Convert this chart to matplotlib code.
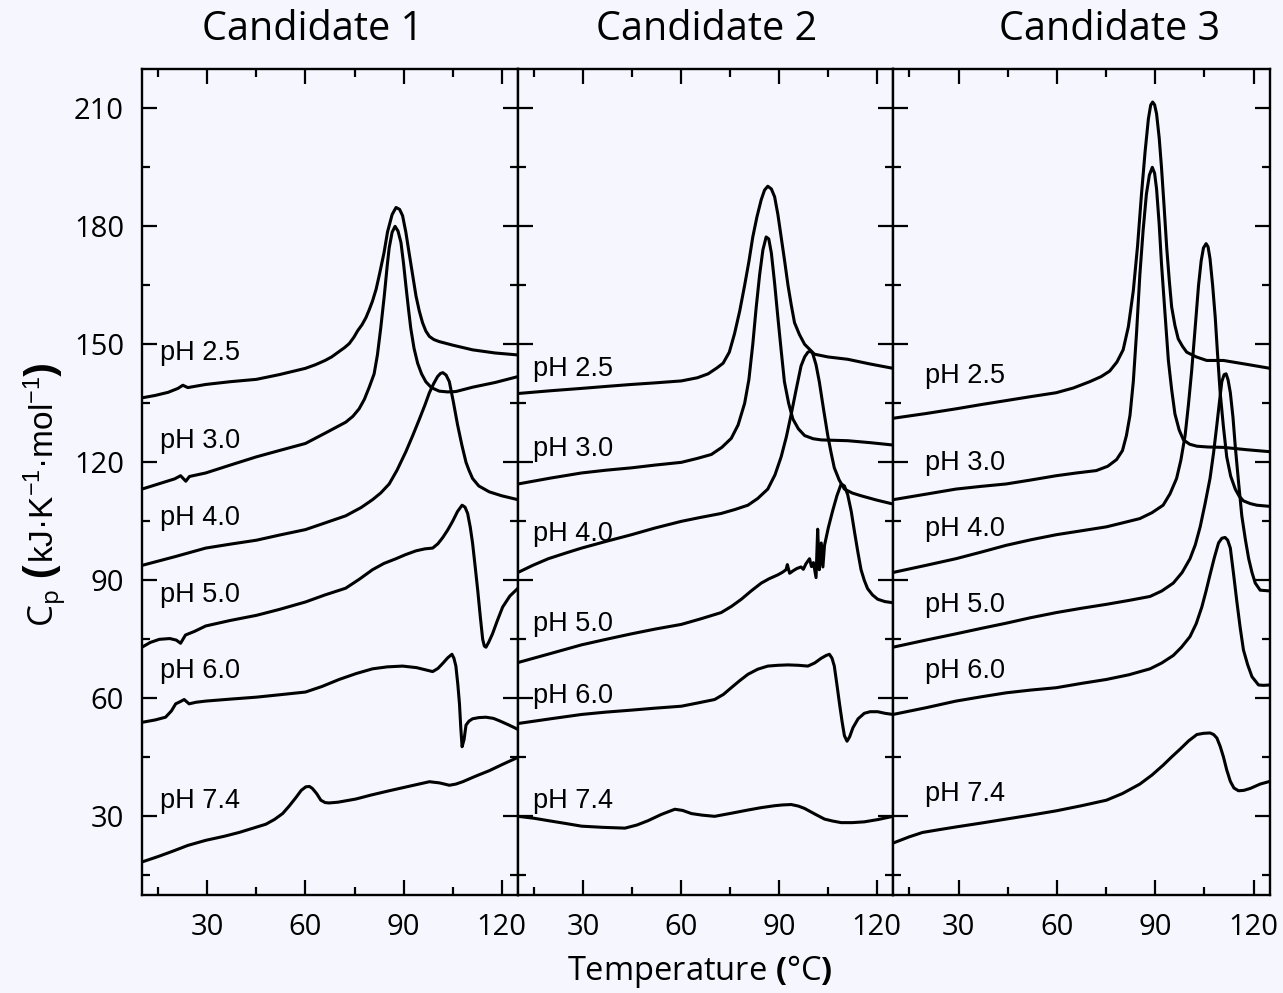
import matplotlib
matplotlib.use("Agg")
import matplotlib.pyplot as plt
from matplotlib.ticker import MultipleLocator

# ---------------- data: DSC thermograms (T in °C, Cp in kJ/K/mol) ----------------
ph_labels = ["pH 2.5", "pH 3.0", "pH 4.0", "pH 5.0", "pH 6.0", "pH 7.4"]
panel_titles = ["Candidate 1", "Candidate 2", "Candidate 3"]
x_ticks = [30, 60, 90, 120]
y_ticks = [30, 60, 90, 120, 150, 180, 210]

# Candidate 1
c1_25_T = [10, 14, 18, 21, 22.5, 24, 29.5, 37, 45, 52, 60, 63, 66, 68, 70, 72, 73.4, 74.8, 76, 77.3, 78.5,
           79.5, 80.5, 81.6, 82.6, 84, 85.1, 86.5, 87.7, 88.8, 89.7, 90.7, 91.7, 92.8, 93.8, 94.8, 95.8, 96.8,
           97.9, 99.3, 100.9, 105, 111.1, 118, 125]
c1_25_cp = [136.4, 137, 137.8, 138.8, 139.6, 139, 139.8, 140.5, 141.1, 142.3, 143.9, 144.8, 145.9, 146.8, 148,
            149.2, 150.2, 151.8, 153.5, 155, 156.8, 158.8, 161, 164, 167.7, 173.2, 178.6, 183, 184.8, 184.3,
            182.7, 178.5, 173.2, 167.5, 162.3, 158.5, 155.5, 153.4, 152, 151.2, 150.7, 149.8, 148.6, 147.8,
            147.3]
c1_30_T = [10, 15, 20, 21.8, 23.4, 24.5, 29.5, 37, 45, 52, 60, 66.2, 72.3, 74.5, 76.4, 78, 79.5, 81, 82, 83,
           84.1, 85, 85.6, 86.5, 87.4, 88.3, 89.2, 90, 90.7, 91.5, 92.2, 93.2, 94.3, 95.5, 96.8, 98.5, 100.9,
           103.5, 106, 111.1, 118, 125]
c1_30_cp = [113.2, 114.5, 115.8, 116.6, 115.2, 116.4, 117.3, 119.3, 121.4, 123, 124.8, 127.5, 130.2, 131.7,
            133.6, 136, 139.1, 142.5, 147.3, 154, 162.3, 170, 174.5, 178.5, 180, 178.8, 175.9, 170.5, 165, 159,
            154.1, 149, 145.2, 142.5, 140.5, 139, 138.1, 137.9, 138, 139.1, 140.3, 141.8]
c1_40_T = [10, 20, 29.5, 37, 45, 52, 60, 66, 72.3, 77, 80.5, 83, 85.6, 88, 90.7, 92.8, 94.8, 96.5, 97.9, 99.2,
           100.4, 101.3, 102, 103, 104, 105.2, 106.5, 107.8, 109.1, 110, 111.1, 113, 116.2, 120, 125]
c1_40_cp = [93.8, 96, 98.2, 99.2, 100.2, 101.5, 102.9, 104.6, 106.4, 108.5, 110.5, 112.2, 114.5, 118, 122.7,
            126.8, 130.9, 134.5, 137.7, 140, 141.8, 142.6, 142.8, 142.2, 140.5, 135.5, 129.6, 124.5, 120, 118,
            115.9, 114, 112.5, 111.5, 110.5]
c1_50_T = [10, 12.5, 15.3, 18.5, 20.5, 21.8, 23.3, 26, 29.5, 37, 45, 52, 60, 66, 72.3, 76.5, 80.5, 84, 87.7,
           90.5, 93.8, 96.5, 98.9, 100.5, 102, 103.5, 105, 106.5, 107.9, 108.8, 109.6, 110.4, 111.1, 111.9,
           112.7, 113.5, 114.2, 114.7, 115.2, 116, 117.2, 118.7, 120.3, 122.5, 125]
c1_50_cp = [73, 74.2, 75, 75.2, 74.8, 74, 76.1, 77, 78.4, 79.8, 81.1, 82.6, 84.5, 86.3, 88, 90.3, 92.7, 94.3,
            95.5, 96.5, 97.5, 98, 98.2, 99.3, 100.9, 102.8, 105, 107.5, 109.1, 108.6, 107, 103.5, 99.5, 93.5,
            87.3, 80.5, 75, 73.3, 73, 74.2, 76.4, 79.8, 83.2, 86, 88]
c1_60_T = [10, 14, 17.2, 19, 20.3, 21.8, 22.9, 24.4, 26.5, 29.5, 37, 45, 52, 60, 65, 70.3, 75.5, 80.5, 85,
           89.7, 94, 98.9, 100.5, 102, 103.5, 104.8, 105.4, 106, 106.6, 107.1, 107.5, 107.9, 108.5, 109.1, 110,
           111.1, 113, 115.2, 117.5, 119.3, 122, 125]
c1_60_cp = [53.9, 54.5, 55.2, 56.8, 58.6, 59.2, 59.7, 58.6, 59, 59.3, 59.8, 60.3, 60.9, 61.6, 63, 64.8, 66.3,
            67.5, 68, 68.2, 67.8, 66.8, 67.6, 68.9, 70.3, 71.2, 70.2, 68.2, 63.5, 58.6, 52.5, 47.7, 49.5, 53.2,
            54.2, 54.8, 55.1, 55.2, 54.9, 54.3, 53.3, 52.1]
c1_74_T = [10, 15, 19.3, 24, 29.5, 35, 39.7, 44, 47.9, 50.5, 53, 55, 57.1, 58.7, 60.1, 61.2, 62.1, 63.4, 64.7,
           66, 67.2, 70, 75.4, 80, 85.6, 92, 97.9, 101, 104, 106, 108.1, 112, 116.2, 120.5, 125]
c1_74_cp = [18.4, 19.8, 21.1, 22.6, 23.9, 24.9, 25.9, 27, 28, 29.2, 30.7, 32.6, 34.8, 36.6, 37.5, 37.6, 37.1,
            35.8, 34.1, 33.5, 33.4, 33.6, 34.4, 35.4, 36.5, 37.7, 38.8, 38.5, 37.9, 38.2, 38.8, 40.2, 41.6,
            43.3, 45]

# Candidate 2
c2_25_T = [10, 20, 29.5, 37, 44.8, 52, 60.1, 65, 68.3, 71, 72.9, 74.8, 76.4, 78, 79.5, 80.8, 82, 83.3, 84.6,
           85.6, 86.6, 87.7, 88.7, 89.7, 90.7, 91.8, 92.8, 93.8, 94.8, 96.3, 97.9, 100.9, 105, 111.1, 118, 125]
c2_25_cp = [137.5, 138.2, 138.8, 139.3, 139.8, 140.2, 140.7, 141.5, 142.5, 144, 145.2, 148, 152.7, 158.5, 165,
            171, 177.3, 182.5, 186.8, 189.2, 190.2, 189.5, 187.5, 183, 177.3, 171, 165, 160, 155.5, 152.5, 150,
            147.5, 146.8, 146.2, 145, 143.9]
c2_30_T = [10, 20, 29.5, 37, 44.8, 52, 60.1, 65, 69.3, 72.5, 75.4, 77.5, 79.5, 80.8, 82, 83, 84.1, 85.1, 86.1,
           86.9, 87.7, 88.7, 89.7, 90.7, 91.7, 93, 94.3, 96, 97.9, 100.5, 103, 107, 111.1, 118, 125]
c2_30_cp = [114.5, 116, 117.3, 118, 118.6, 119.3, 120, 121, 122, 123.8, 126.1, 129.5, 135, 141, 150, 159, 167.7,
            174, 177.3, 176.8, 173.2, 165.5, 156.8, 148.5, 140.5, 135, 131, 128.5, 126.8, 126, 125.7, 125.6,
            125.5, 125, 124.4]
c2_40_T = [10, 14.5, 19.3, 24.5, 29.5, 37, 44.8, 52, 60.1, 66, 72.3, 76.5, 80.5, 83.5, 86.6, 88.8, 90.7, 92.3,
           93.8, 95.3, 96.8, 97.9, 98.9, 99.7, 100.4, 101.4, 102.4, 103.7, 105, 106, 107, 108.5, 110.1, 112.5,
           115.2, 120, 125]
c2_40_cp = [92, 93.8, 95.5, 96.9, 98.2, 99.9, 101.6, 103.3, 105, 106, 107, 108, 109.1, 110.8, 113.2, 116.8,
            121.4, 126.5, 132.3, 138.5, 144.5, 146.8, 148, 148.3, 147.6, 144.8, 140.5, 133.5, 126.8, 122.5, 118.6,
            115.5, 113.2, 112.2, 111.5, 110.4, 109.4]
c2_50_T = [10, 20, 29.5, 37, 44.8, 52, 60.1, 66, 72.3, 75.5, 78.5, 81.5, 84.6, 87, 89.7, 91, 92.2, 92.6, 93.3,
           94.5, 95.5, 96.8, 97.5, 98.3, 99.4, 100, 100.6, 101.4, 101.9, 102.4, 103, 103.5, 104, 105.2, 106.5,
           107.8, 109.1, 110.1, 111.1, 112.2, 113.2, 114.2, 115.2, 116.2, 117.2, 118.7, 120.3, 122.5, 125]
c2_50_cp = [69.1, 71.4, 73.6, 75, 76.4, 77.6, 78.8, 80.2, 81.8, 83.4, 85.2, 87.3, 89.3, 90.4, 91.4, 92, 92.7,
            94, 91.8, 92.5, 93, 93.4, 92.8, 94.2, 95.5, 93.5, 94.5, 90.7, 103, 92.7, 99.5, 93.4, 98.9, 103.5,
            107.7, 111.5, 114.5, 114, 111.8, 107.5, 102.3, 97.3, 92.7, 90, 87.9, 86.3, 85.2, 84.6, 84.3]
c2_60_T = [10, 20, 29.5, 37, 44.8, 52, 60.1, 65, 70.3, 73, 75.4, 78, 80.5, 83.5, 86.6, 89.7, 92.8, 96, 98.9,
           101, 103, 104.5, 105.5, 106.3, 107, 107.8, 108.6, 109.4, 110.1, 110.9, 111.7, 112.7, 114.3, 116.2,
           118, 120.3, 122.5, 125]
c2_60_cp = [53.6, 54.8, 55.9, 56.5, 57, 57.5, 58, 58.8, 59.7, 61, 62.7, 64.5, 66.1, 67.4, 68.2, 68.4, 68.5,
            68.4, 68.2, 69, 70.2, 70.9, 71.2, 70.2, 68.2, 63.5, 58.6, 54, 50.5, 49.1, 50.2, 52.5, 54.8, 56.2,
            56.6, 56.6, 56.2, 55.9]
c2_74_T = [10, 15, 19.3, 24.5, 29.5, 36, 42.8, 46.5, 49.9, 54, 58.1, 60.5, 63.2, 66.5, 70.3, 75.5, 80.5, 84.5,
           88.7, 91.2, 93.8, 96, 97.9, 101, 104, 106.5, 109.1, 112.5, 116.2, 120.5, 125]
c2_74_cp = [30, 29.5, 28.9, 28.2, 27.5, 27.2, 27, 27.8, 28.9, 30.5, 31.8, 31.5, 30.7, 30.3, 30, 30.8, 31.6,
            32.2, 32.7, 32.9, 33, 32.6, 32, 30.6, 29.3, 28.8, 28.4, 28.4, 28.6, 29.2, 30]

# Candidate 3
c3_25_T = [10, 20, 29.2, 37, 44.5, 52, 59.8, 65, 70, 73.5, 76.1, 78.3, 80.2, 81.8, 83.3, 84.6, 85.8, 86.9,
           87.9, 88.6, 89.2, 89.8, 90.4, 91.2, 91.9, 92.7, 93.5, 94.3, 95, 96, 97, 98.3, 99.6, 102.5, 105.7,
           110.8, 118, 125]
c3_25_cp = [131.2, 132.4, 133.6, 134.7, 135.7, 136.7, 137.7, 138.9, 140.5, 141.8, 143.2, 145.5, 148.6, 154.5,
            163.6, 175, 188.2, 199, 207.3, 210.8, 211.6, 210.9, 208.6, 202.5, 195, 185, 174.5, 166, 159.5,
            154.8, 151.4, 149.5, 148, 146.8, 145.9, 145.9, 144.9, 143.9]
c3_30_T = [10, 20, 29.2, 37, 44.5, 52, 59.8, 66, 72, 75.5, 78.2, 80, 81.2, 82.3, 83.3, 84.3, 85.3, 86.3, 87.3,
           88.2, 89.1, 89.8, 90.4, 91.2, 91.9, 93, 94, 95, 96, 97.3, 98.6, 100.5, 102.7, 106, 110.8, 118, 125]
c3_30_cp = [110.5, 111.9, 113.2, 113.9, 114.5, 115.5, 116.6, 117.3, 117.9, 119, 120.7, 123, 126.8, 132, 140.5,
            153, 167.7, 179, 188.2, 193, 195, 193.5, 189.5, 180.5, 170.5, 157.5, 145.9, 138.5, 132.3, 128.2,
            125.7, 124.6, 124.1, 123.9, 123.8, 123.2, 122.7]
c3_40_T = [10, 20, 29.2, 37, 44.5, 52, 59.8, 67.5, 75.1, 80, 85.3, 89, 92.4, 94.5, 96.5, 97.8, 99.1, 100.1,
           101.1, 102.2, 103.2, 104, 104.7, 105.5, 106.1, 106.7, 107.5, 108.3, 109, 109.8, 110.8, 111.8, 113,
           114.4, 115.6, 116.9, 119, 121, 125]
c3_40_cp = [92, 93.8, 95.5, 97.2, 98.9, 100.3, 101.6, 102.6, 103.6, 104.6, 105.7, 107.2, 109.1, 112, 115.9,
            120.5, 126.8, 134.5, 143.2, 154.5, 165, 171.2, 174.5, 175.6, 174.8, 171.8, 165, 156.8, 147.5, 137.7,
            129, 121.4, 116.5, 113.2, 111.4, 110.2, 109.5, 109.1, 108.8]
c3_50_T = [10, 20, 29.2, 37, 44.5, 52, 59.8, 67.5, 75.1, 82, 88.4, 92, 95.5, 98.2, 100.6, 102.2, 103.7, 105.2,
           106.7, 107.8, 108.8, 109.6, 110.3, 111, 111.6, 112.2, 112.9, 113.7, 114.4, 115.4, 116.4, 117.5,
           118.5, 119.5, 120.5, 122, 125]
c3_50_cp = [73, 74.8, 76.4, 77.8, 79.1, 80.5, 81.8, 82.9, 83.9, 84.9, 85.9, 87.3, 89.3, 92, 95.5, 99, 103.6,
            109.5, 115.9, 122.5, 129.6, 135.5, 140.5, 142.3, 142.5, 141, 137.7, 131.5, 124.1, 115, 106.4, 100.3,
            95.5, 92, 89.3, 87.5, 87.3]
c3_60_T = [10, 20, 29.2, 37, 44.5, 52, 59.8, 67.5, 75.1, 82, 88.4, 92, 95.5, 98, 100.6, 102.5, 104.2, 105.5,
           106.7, 108, 109.3, 110.3, 111.3, 112.1, 112.9, 113.9, 114.9, 115.9, 116.9, 118.2, 119.5, 121.5, 123,
           125]
c3_60_cp = [55.9, 57.6, 59.3, 60.4, 61.4, 62.1, 62.7, 63.8, 64.8, 66, 67.5, 69, 70.9, 73, 75.7, 79, 83.2, 87.3,
            91.4, 95.7, 99.5, 100.7, 100.9, 100.2, 98.2, 91.5, 84.5, 78, 72.3, 68.5, 65.5, 63.4, 63.3, 63.4]
c3_74_T = [10, 15, 19, 24, 29.2, 37, 44.5, 52, 59.8, 67.5, 75.1, 80, 85.3, 89, 92.4, 95, 97.6, 100.2, 102.7,
           104.7, 106.7, 107.8, 108.8, 109.8, 110.8, 111.8, 112.9, 114, 115.4, 117, 119, 122, 125]
c3_74_cp = [23.2, 24.8, 25.9, 26.6, 27.3, 28.3, 29.3, 30.3, 31.4, 32.7, 34.1, 35.8, 38.2, 40.5, 43, 45.1, 47.1,
            49.2, 50.8, 51.1, 51.2, 50.8, 49.9, 47.8, 45.1, 41.8, 38.9, 37.2, 36.5, 36.6, 37.1, 38.2, 38.9]

# label anchors (T, Cp) for the pH tags in each panel
c1_label_T = 15.5
c1_label_cp = [147.9, 125.5, 105.9, 86.3, 66.9, 33.8]
c2_label_T = 14.6
c2_label_cp = [143.8, 123.4, 101.8, 78.9, 60.6, 33.8]
c3_label_T = 19.8
c3_label_cp = [142.0, 119.9, 103.1, 83.7, 66.9, 35.6]

panels = [
    ([(c1_25_T, c1_25_cp), (c1_30_T, c1_30_cp), (c1_40_T, c1_40_cp),
      (c1_50_T, c1_50_cp), (c1_60_T, c1_60_cp), (c1_74_T, c1_74_cp)], c1_label_T, c1_label_cp),
    ([(c2_25_T, c2_25_cp), (c2_30_T, c2_30_cp), (c2_40_T, c2_40_cp),
      (c2_50_T, c2_50_cp), (c2_60_T, c2_60_cp), (c2_74_T, c2_74_cp)], c2_label_T, c2_label_cp),
    ([(c3_25_T, c3_25_cp), (c3_30_T, c3_30_cp), (c3_40_T, c3_40_cp),
      (c3_50_T, c3_50_cp), (c3_60_T, c3_60_cp), (c3_74_T, c3_74_cp)], c3_label_T, c3_label_cp),
]

# ---------------- styling ----------------
BG = "#F5F6FE"
plt.rcParams["font.family"] = ["Open Sans", "DejaVu Sans"]
plt.rcParams["mathtext.fontset"] = "custom"
plt.rcParams["mathtext.rm"] = "Open Sans"
plt.rcParams["mathtext.bf"] = "Open Sans:bold"

W, H = 1283, 993
fig = plt.figure(figsize=(W / 100, H / 100), dpi=100, facecolor=BG)

lefts = [142, 518, 893]
rights = [518, 893, 1270]
top_px, bot_px = 69, 895

for i, (curves, lab_T, lab_cp) in enumerate(panels):
    ax = fig.add_axes([lefts[i] / W, 1 - bot_px / H, (rights[i] - lefts[i]) / W, (bot_px - top_px) / H])
    ax.set_facecolor(BG)
    for (T, cp) in curves:
        ax.plot(T, cp, color="black", lw=2.2, solid_joinstyle="round", solid_capstyle="round")
    for lab, yv in zip(ph_labels, lab_cp):
        ax.text(lab_T, yv, lab, family="Liberation Sans", fontsize=19.5, ha="left", va="center")

    ax.set_xlim(10, 125)
    ax.set_ylim(10, 220)
    ax.set_xticks(x_ticks)
    ax.set_yticks(y_ticks)
    ax.xaxis.set_minor_locator(MultipleLocator(15))
    ax.yaxis.set_minor_locator(MultipleLocator(15))
    ax.tick_params(which="both", direction="in", top=True, right=True, width=1.6, colors="black")
    ax.tick_params(which="major", length=11, labelsize=21, pad=13)
    ax.tick_params(which="minor", length=6)
    if i > 0:
        ax.tick_params(labelleft=False)
    for sp in ax.spines.values():
        sp.set_linewidth(1.7)

# panel titles
title_x = [313, 707, 1110]
for tx, title in zip(title_x, panel_titles):
    fig.text(tx / W, 1 - 30 / H, title, fontsize=28.5, ha="center", va="center")

# x axis label
fig.text(700 / W, 1 - 972 / H, r"Temperature $\mathbf{(}$°C$\mathbf{)}$", fontsize=23.5,
         ha="center", va="center")

# y axis label, assembled from pieces stacked bottom-to-top along a common baseline
renderer = fig.canvas.get_renderer()
ylabel_pieces = [
    (r"C$_\mathregular{p}$", dict(fontsize=25)),
    (r" (", dict(fontsize=31, fontweight="bold")),
    (r"kJ·K$^\mathregular{-1}$·mol$^\mathregular{-1}$", dict(fontsize=24, family="Liberation Sans")),
    (r")", dict(fontsize=31, fontweight="bold")),
]
base_x = 54 / W
y_pos = 1 - 627 / H
for s, kw in ylabel_pieces:
    t = fig.text(base_x, y_pos, s, rotation=90, rotation_mode="anchor", ha="left", va="baseline", **kw)
    bb = t.get_window_extent(renderer)
    y_pos += bb.height / H

fig.savefig("out.png", dpi=100, facecolor=BG)
